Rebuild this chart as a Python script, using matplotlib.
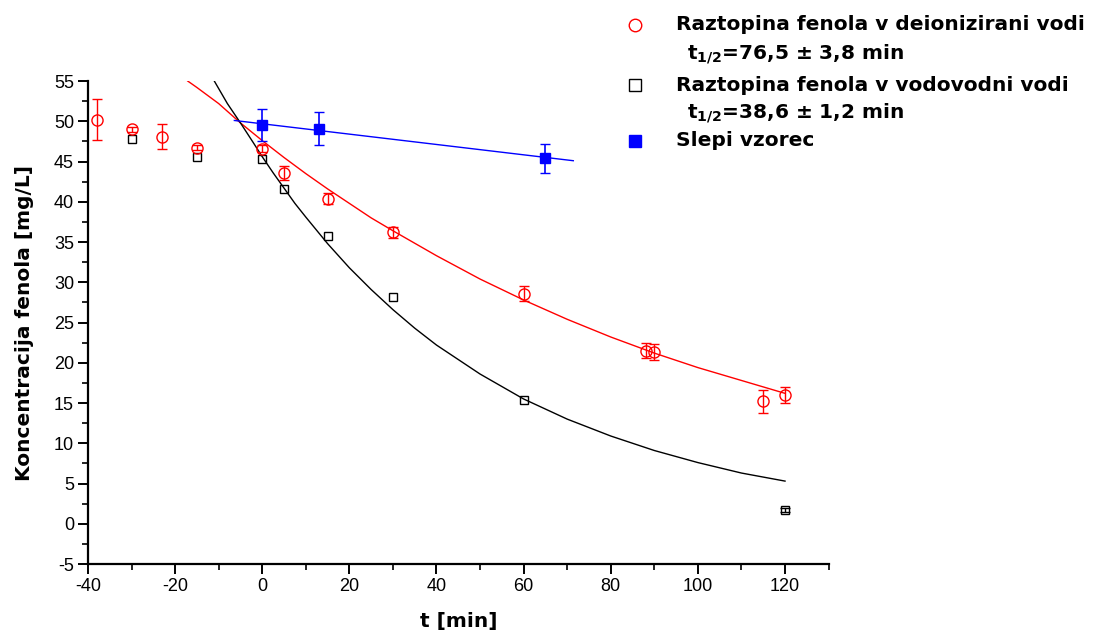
import numpy as np
import matplotlib
matplotlib.use("Agg")
import matplotlib.pyplot as plt
from matplotlib.ticker import MultipleLocator
from matplotlib.lines import Line2D

plt.rcParams['font.family'] = ['Liberation Sans Narrow', 'Liberation Sans', 'DejaVu Sans']
plt.rcParams['axes.unicode_minus'] = False
plt.rcParams['mathtext.fontset'] = 'dejavusans'

# deionizirana voda (rdeci krogi)
t_deion = [-38, -30, -23, -15, 0, 5, 15, 30, 60, 88, 90, 115, 120]
c_deion = [50.2, 49.0, 48.1, 46.7, 46.6, 43.6, 40.4, 36.2, 28.6, 21.5, 21.3, 15.2, 16.0]
e_deion = [2.55, 0.3, 1.5, 0.3, 0.4, 0.9, 0.7, 0.7, 0.9, 0.9, 1.0, 1.4, 1.0]

# vodovodna voda (crni kvadrati)
t_vodo = [-30, -15, 0, 5, 15, 30, 60, 120]
c_vodo = [47.8, 45.6, 45.3, 41.6, 35.7, 28.2, 15.4, 1.7]
e_vodo = [0, 0, 0, 0, 0, 0, 0, 0.3]

# slepi vzorec (modri kvadrati)
t_slepi = [0, 13, 65]
c_slepi = [49.5, 49.1, 45.4]
e_slepi = [2.0, 2.0, 1.8]

# fit krivulje, odcitane s slike
fit_t_deion = [-17.1, -15, -10, -5, 0, 5, 10, 15, 20, 25, 30, 40, 50, 60, 70, 80, 90, 100, 110, 120]
fit_c_deion = [55.0, 54.2, 52.2, 49.8, 47.6, 45.5, 43.5, 41.6, 39.8, 38.0, 36.4, 33.3, 30.4,
               27.8, 25.4, 23.2, 21.2, 19.4, 17.8, 16.2]
fit_t_vodo = [-11.0, -8, -5, -2, 0, 2.5, 5, 7.5, 10, 15, 20, 25, 30, 35, 40, 50, 60, 70, 80, 90, 100, 110, 120]
fit_c_vodo = [55.0, 52.2, 49.8, 47.3, 45.6, 43.6, 41.7, 39.8, 38.1, 34.8, 31.8, 29.1, 26.6,
              24.3, 22.2, 18.6, 15.5, 13.0, 10.9, 9.1, 7.6, 6.3, 5.3]
fit_t_slepi = [-6.4, 71.4]
fit_c_slepi = [50.1, 45.1]

leg_labels = ['Raztopina fenola v deionizirani vodi',
              'Raztopina fenola v vodovodni vodi',
              'Slepi vzorec']
leg_t_half = ['$\\mathbf{t_{1/2}}$=76,5 ± 3,8 min',
              '$\\mathbf{t_{1/2}}$=38,6 ± 1,2 min']

fig = plt.figure(figsize=(10.94, 6.35), dpi=100)
ax = fig.add_axes([0.0804, 0.1118, 0.677, 0.7606])

ax.plot(fit_t_deion, fit_c_deion, color='red', lw=1.0)
ax.plot(fit_t_vodo, fit_c_vodo, color='black', lw=1.0)
ax.plot(fit_t_slepi, fit_c_slepi, color='blue', lw=1.0)

ax.errorbar(t_deion, c_deion, yerr=e_deion, fmt='o', mfc='none', mec='red',
            ecolor='red', ms=8, mew=1.0, capsize=3.5, elinewidth=1.0, capthick=1.0)

ax.plot(t_vodo, c_vodo, 's', mfc='none', mec='black', ms=6, mew=1.0)
t_ev = [t for t, e in zip(t_vodo, e_vodo) if e > 0]
c_ev = [c for c, e in zip(c_vodo, e_vodo) if e > 0]
ax.errorbar(t_ev, c_ev, yerr=[e for e in e_vodo if e > 0], fmt='none', ecolor='black',
            capsize=3.5, elinewidth=1.0, capthick=1.0)

ax.errorbar(t_slepi, c_slepi, yerr=e_slepi, fmt='s', mfc='blue', mec='blue',
            ecolor='blue', ms=7, mew=1.0, capsize=3.5, elinewidth=1.2, capthick=1.2)

ax.set_xlim(-40, 130)
ax.set_ylim(-5, 55)
ax.xaxis.set_major_locator(MultipleLocator(20))
ax.xaxis.set_minor_locator(MultipleLocator(10))
ax.yaxis.set_major_locator(MultipleLocator(5))
ax.yaxis.set_minor_locator(MultipleLocator(2.5))
ax.set_xticks(np.arange(-40, 121, 20))

for s in ['top', 'right']:
    ax.spines[s].set_visible(False)
for s in ['left', 'bottom']:
    ax.spines[s].set_linewidth(1.6)

ax.tick_params(which='major', direction='out', length=7, width=1.4, labelsize=13, pad=3)
ax.tick_params(which='minor', direction='out', length=4, width=1.2)

bold = {'family': 'DejaVu Sans', 'weight': 'bold', 'size': 14.5}
ax.set_xlabel('t [min]', fontdict=bold, labelpad=12)
ax.set_ylabel('Koncentracija fenola [mg/L]', fontdict=bold, labelpad=14)

# legenda
leg_y = [0.961, 0.866, 0.778]
leg_t_y = [0.915, 0.822]
markers = [dict(marker='o', mfc='none', mec='red', ms=9),
           dict(marker='s', mfc='none', mec='black', ms=8),
           dict(marker='s', mfc='blue', mec='blue', ms=8)]
for y, lab, m in zip(leg_y, leg_labels, markers):
    fig.add_artist(Line2D([0.5805], [y], ls='none', mew=1.0, transform=fig.transFigure, **m))
    fig.text(0.618, y, lab, va='center', ha='left', fontdict=bold)
for y, lab in zip(leg_t_y, leg_t_half):
    fig.text(0.628, y, lab, va='center', ha='left', fontdict=bold)

fig.savefig('out.png', dpi=100)
